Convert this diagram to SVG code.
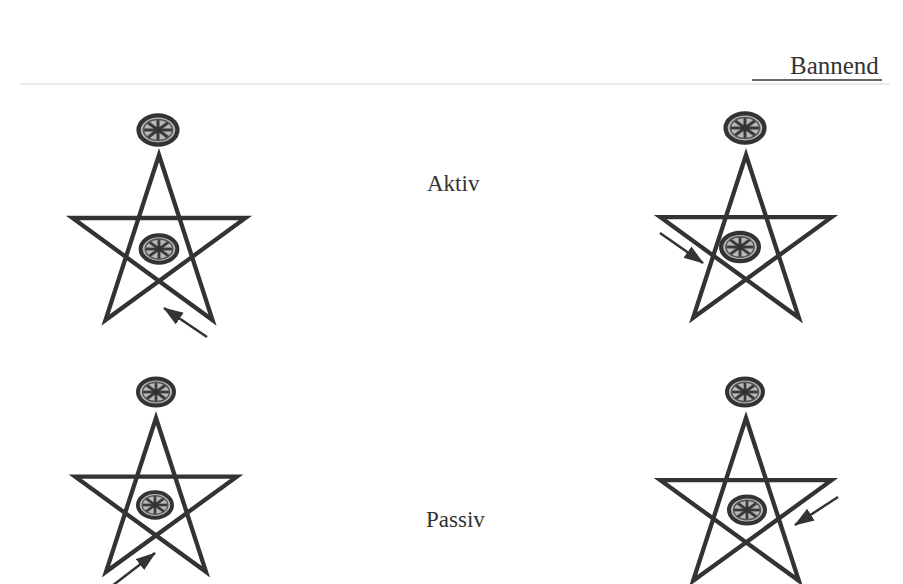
<svg xmlns="http://www.w3.org/2000/svg" xmlns:xlink="http://www.w3.org/1999/xlink" width="903" height="584" viewBox="0 0 903 584">
<style>
.star{fill:none;stroke:#333;stroke-width:4.3;stroke-linejoin:miter;stroke-miterlimit:10}
.lbl{font-family:"Liberation Serif","Times New Roman",serif;fill:#333;font-size:23px}
.arr{stroke:#333;stroke-width:2.5;fill:none}
</style>
<defs>
<g id="wheel">
<ellipse rx="18" ry="13.5" fill="#b8b8b8" stroke="#333" stroke-width="4"/>
<g stroke="#3a3a3a" stroke-width="2.8">
<line x1="-13" y1="0" x2="13" y2="0"/>
<line x1="0" y1="-10" x2="0" y2="10"/>
<line x1="-9.5" y1="-7" x2="9.5" y2="7"/>
<line x1="-9.5" y1="7" x2="9.5" y2="-7"/>
</g>
<ellipse rx="13.5" ry="9.8" fill="none" stroke="#555" stroke-width="1.4"/>
<circle r="3" fill="#333"/>
</g>
<marker id="ah" markerUnits="userSpaceOnUse" markerWidth="22" markerHeight="16" refX="19" refY="7" orient="auto">
<path d="M0,0 L20,7 L0,14 Z" fill="#333"/>
</marker>
</defs>
<rect width="903" height="584" fill="#ffffff"/>
<line x1="20" y1="84" x2="890" y2="84" stroke="#e4e4e4" stroke-width="1.5"/>
<g id="header">
<text class="lbl" x="790" y="74" style="font-size:25px">Bannend</text>
<line x1="752" y1="80" x2="882" y2="80" stroke="#333" stroke-width="1.6"/>
</g>
<text class="lbl" x="427" y="191">Aktiv</text>
<text class="lbl" x="426" y="527">Passiv</text>
<g id="star-aktiv-left">
<path class="star" d="M159,155 L212.5,320 L72.5,218 L245.5,218 L105.5,320 Z"/>
<use xlink:href="#wheel" transform="translate(158,130) scale(1.08)"/>
<use xlink:href="#wheel" transform="translate(159,249) scale(1.02)"/>
</g>
<g id="star-aktiv-right">
<path class="star" d="M746,155 L798.9,317.8 L660.4,217.2 L831.6,217.2 L693.1,317.8 Z"/>
<use xlink:href="#wheel" transform="translate(745,128) scale(1.08)"/>
<use xlink:href="#wheel" transform="translate(740,247) scale(1.05)"/>
</g>
<g id="star-passiv-left">
<path class="star" d="M156,418 L206,571.8 L75.2,476.7 L236.8,476.7 L106,571.8 Z"/>
<use xlink:href="#wheel" transform="translate(156,392) scale(1.0)"/>
<use xlink:href="#wheel" transform="translate(155,505) scale(0.95)"/>
</g>
<g id="star-passiv-right">
<path class="star" d="M746,418 L798.9,580.8 L660.4,480.2 L831.6,480.2 L693.1,580.8 Z"/>
<use xlink:href="#wheel" transform="translate(745,392) scale(1.0)"/>
<use xlink:href="#wheel" transform="translate(747,510) scale(1.0)"/>
</g>
<g id="connectors">
<line class="arr" x1="207" y1="337" x2="164" y2="308" marker-end="url(#ah)"/>
<line class="arr" x1="660" y1="233" x2="703" y2="263" marker-end="url(#ah)"/>
<line class="arr" x1="112" y1="586" x2="155" y2="553" marker-end="url(#ah)"/>
<line class="arr" x1="838" y1="497" x2="795" y2="525" marker-end="url(#ah)"/>
</g>
</svg>
